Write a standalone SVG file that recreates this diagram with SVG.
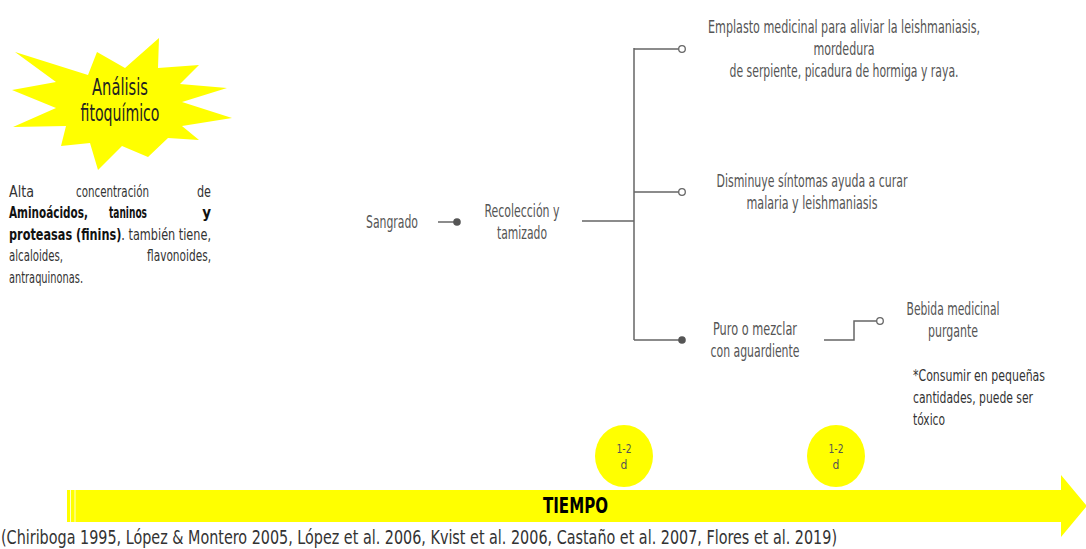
<svg xmlns="http://www.w3.org/2000/svg" width="1086" height="549" viewBox="0 0 1086 549">
  <style>
    text { font-family: "Liberation Sans Narrow", "DejaVu Sans Condensed", "Liberation Sans", sans-serif; font-stretch: condensed; }
    .lbl { font-size: 17px; fill: #555; text-anchor: middle; }
    .para { font-size: 15px; fill: #333; }
    .bold { font-weight: bold; fill: #111; }
    .note { font-size: 16px; fill: #333; }
    .wire { fill: none; stroke: #666; stroke-width: 1.5; }
    .open { fill: #fff; stroke: #666; stroke-width: 1.3; }
    .dot { fill: #555; }
    .sun { fill: #ffff00; }
    .days { font-size: 12px; fill: #555; text-anchor: middle; }
  </style>

  <!-- starburst heading -->
  <g id="star">
    <polygon class="sun" points="15,52 88,75 97,52 125,68 159,38 158,68 199,65 180,84 227,88 182,102 232,118 182,126 199,140 168,138 148,157 122,146 98,170 90,143 61,146 66,126 13,127 56,108 12,90 56,82"/>
    <text x="120" y="95" text-anchor="middle" style="font-size:23px;fill:#222" textLength="56" lengthAdjust="spacingAndGlyphs">Análisis</text>
    <text x="120" y="121" text-anchor="middle" style="font-size:23px;fill:#222" textLength="79" lengthAdjust="spacingAndGlyphs">fitoquímico</text>
  </g>

  <!-- composition paragraph -->
  <g id="composicion" class="para">
    <text x="9" y="197" textLength="25" lengthAdjust="spacingAndGlyphs">Alta</text>
    <text x="76" y="197" textLength="73" lengthAdjust="spacingAndGlyphs">concentración</text>
    <text x="211" y="197" text-anchor="end" textLength="14" lengthAdjust="spacingAndGlyphs">de</text>
    <text x="9" y="218" class="bold" textLength="79" lengthAdjust="spacingAndGlyphs">Aminoácidos,</text>
    <text x="109" y="218" class="bold" textLength="38" lengthAdjust="spacingAndGlyphs">taninos</text>
    <text x="211" y="218" class="bold" text-anchor="end">y</text>
    <text x="9" y="240" textLength="202" lengthAdjust="spacingAndGlyphs"><tspan class="bold">proteasas (finins)</tspan>. también tiene,</text>
    <text x="9" y="261" textLength="54" lengthAdjust="spacingAndGlyphs">alcaloides,</text>
    <text x="147" y="261" textLength="64" lengthAdjust="spacingAndGlyphs">flavonoides,</text>
    <text x="9" y="283" textLength="74" lengthAdjust="spacingAndGlyphs">antraquinonas.</text>
  </g>

  <!-- connectors -->
  <g id="connectors">
    <path class="wire" d="M438,222 H457"/>
    <circle class="dot" cx="457" cy="222" r="3.8"/>
    <path class="wire" d="M582,221 H634 M634,48 V340 M634,49 H679 M634,192 H679 M634,340 H682"/>
    <circle class="open" cx="682" cy="49" r="3.3"/>
    <circle class="open" cx="682" cy="192" r="3.3"/>
    <circle class="dot" cx="682" cy="340" r="3.8"/>
    <path class="wire" d="M824,340 H854 V321 H877"/>
    <circle class="open" cx="880" cy="321" r="3.3"/>
  </g>

  <g id="sangrado">
    <text class="lbl" x="392" y="228" textLength="52" lengthAdjust="spacingAndGlyphs">Sangrado</text>
  </g>
  <g id="recoleccion">
    <text class="lbl" x="522" y="217" textLength="75" lengthAdjust="spacingAndGlyphs">Recolección y</text>
    <text class="lbl" x="522" y="239" textLength="50" lengthAdjust="spacingAndGlyphs">tamizado</text>
  </g>
  <g id="emplasto">
    <text class="lbl" x="844" y="33" textLength="272" lengthAdjust="spacingAndGlyphs">Emplasto medicinal para aliviar la leishmaniasis,</text>
    <text class="lbl" x="844" y="55" textLength="61" lengthAdjust="spacingAndGlyphs">mordedura</text>
    <text class="lbl" x="844" y="77" textLength="229" lengthAdjust="spacingAndGlyphs">de serpiente, picadura de hormiga y raya.</text>
  </g>
  <g id="malaria">
    <text class="lbl" x="812" y="187" textLength="191" lengthAdjust="spacingAndGlyphs">Disminuye síntomas ayuda a curar</text>
    <text class="lbl" x="812" y="209" textLength="131" lengthAdjust="spacingAndGlyphs">malaria y leishmaniasis</text>
  </g>
  <g id="aguardiente">
    <text class="lbl" x="755" y="335" textLength="84" lengthAdjust="spacingAndGlyphs">Puro o mezclar</text>
    <text class="lbl" x="755" y="357" textLength="89" lengthAdjust="spacingAndGlyphs">con aguardiente</text>
  </g>
  <g id="bebida">
    <text class="lbl" x="953" y="315" textLength="93" lengthAdjust="spacingAndGlyphs">Bebida medicinal</text>
    <text class="lbl" x="953" y="337" textLength="50" lengthAdjust="spacingAndGlyphs">purgante</text>
  </g>
  <g id="advertencia" class="note">
    <text x="913" y="381" textLength="132" lengthAdjust="spacingAndGlyphs">*Consumir en pequeñas</text>
    <text x="913" y="403" textLength="120" lengthAdjust="spacingAndGlyphs">cantidades, puede ser</text>
    <text x="913" y="425" textLength="32" lengthAdjust="spacingAndGlyphs">tóxico</text>
  </g>

  <!-- duration markers -->
  <g id="dias1">
    <ellipse class="sun" cx="624" cy="456" rx="29" ry="31"/>
    <text class="days" x="624" y="453" textLength="15" lengthAdjust="spacingAndGlyphs">1-2</text>
    <text class="days" x="624" y="469">d</text>
  </g>
  <g id="dias2">
    <ellipse class="sun" cx="836" cy="456" rx="29" ry="31"/>
    <text class="days" x="836" y="453" textLength="15" lengthAdjust="spacingAndGlyphs">1-2</text>
    <text class="days" x="836" y="469">d</text>
  </g>

  <!-- time axis -->
  <g id="tiempo">
    <polygon class="sun" points="67,490 1061,490 1061,475 1086,505 1086,507 1061,537 1061,522 67,522"/>
    <path d="M70.5,490 V522 M75,490 V522" stroke="#fff" stroke-width="0.8"/>
    <text x="543" y="513" style="font-size:22px;font-weight:bold;fill:#000" textLength="65" lengthAdjust="spacingAndGlyphs">TIEMPO</text>
  </g>

  <g id="fuentes">
    <text x="1" y="544" style="font-size:20px;fill:#333" textLength="836" lengthAdjust="spacingAndGlyphs">(Chiriboga 1995, López &amp; Montero 2005, López et al. 2006, Kvist et al. 2006,  Castaño et al. 2007, Flores et al. 2019)</text>
  </g>
</svg>
